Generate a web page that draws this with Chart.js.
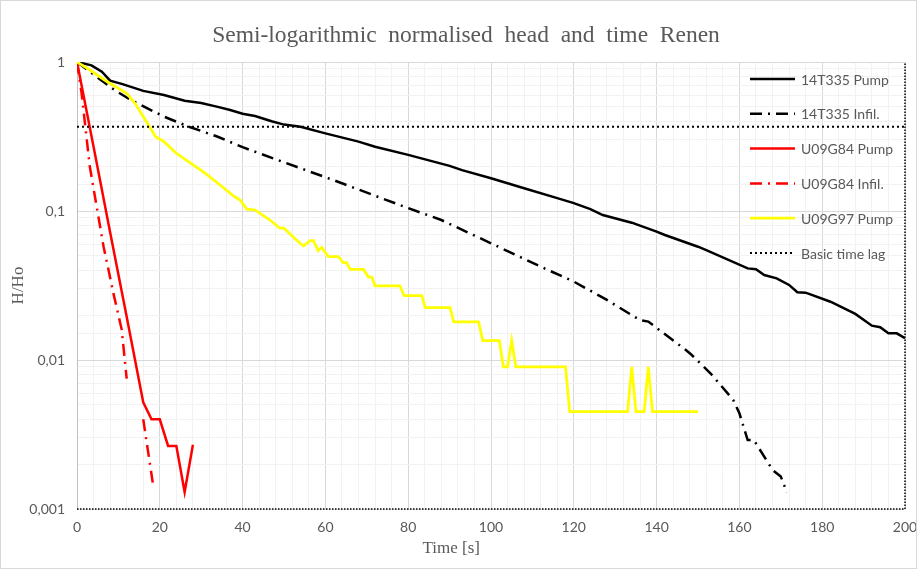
<!DOCTYPE html>
<html>
<head>
<meta charset="utf-8">
<script src="https://cdn.jsdelivr.net/npm/chart.js@4.4.1/dist/chart.umd.min.js"></script>
<style>
  html, body { margin: 0; padding: 0; background: #fff; }
</style>
</head>
<body>
<canvas id="myChart" width="917" height="569"></canvas>
<script>
// values: time [s] and normalised head H/Ho

const pumpT335Time = [0, 3.5, 6, 8, 11, 16, 21, 26, 30, 34, 37, 40, 43, 47, 50, 54, 60, 68, 72, 80, 90, 93, 100, 108, 116, 120, 124, 127, 134, 140, 142, 150, 152, 162, 164, 166, 169, 172, 174, 176, 182, 188, 192, 194, 196, 198, 200];
const pumpT335Head = [1, 0.95, 0.86, 0.75, 0.71, 0.64, 0.60, 0.55, 0.53, 0.50, 0.476, 0.45, 0.434, 0.40, 0.38, 0.368, 0.332, 0.292, 0.27, 0.238, 0.201, 0.188, 0.166, 0.142, 0.122, 0.113, 0.103, 0.094, 0.0835, 0.0727, 0.069, 0.0576, 0.0547, 0.0412, 0.0406, 0.0372, 0.0353, 0.0319, 0.0285, 0.0283, 0.0246, 0.0204, 0.017, 0.0166, 0.0151, 0.0151, 0.014];

const infilT335Time = [0, 3.6, 9, 13, 21, 27, 34, 40, 53, 62, 79, 88, 100, 112, 120, 128, 136, 138, 147, 148.5, 153, 158.5, 160, 162, 163.5, 168, 170, 171.5];
const infilT335Head = [1, 0.84, 0.65, 0.556, 0.43, 0.368, 0.315, 0.268, 0.198, 0.161, 0.107, 0.087, 0.0607, 0.0423, 0.0336, 0.0253, 0.0185, 0.0181, 0.0117, 0.0108, 0.00815, 0.0054, 0.00439, 0.0029, 0.0029, 0.00183, 0.00165, 0.00129];

const pumpG84Time = [0, 4, 8, 12, 16, 18, 20, 22, 24, 26, 28];
const pumpG84Head = [1, 0.27, 0.072, 0.0195, 0.0052, 0.004, 0.004, 0.00265, 0.00265, 0.0013, 0.0027];

// null = no value (gap in the line)
const infilG84Time = [0, 1.1, 3.1, 6.4, 8.8, 10.8, 12, 14, 16, 18.3];
const infilG84Head = [1, 0.62, 0.198, 0.058, 0.028, 0.016, 0.0075, null, 0.004, 0.0015];

const pumpG97Time = [0, 3.2, 7.2, 12, 14, 17, 19, 21, 24, 27, 31, 35, 38, 39.4, 41, 43, 46.6, 49, 50, 53, 54.7, 56.3, 57.1, 58.3, 59.1, 60.7, 63.1, 64.3, 65.1, 66, 69.2, 70.4, 71.2, 72, 78, 79, 83.3, 84.1, 90.1, 91, 97, 98, 102, 103, 104, 105, 106, 118, 119, 133, 134, 135, 137, 138, 139, 150];
const pumpG97Head = [1, 0.88, 0.74, 0.616, 0.528, 0.388, 0.315, 0.292, 0.244, 0.214, 0.179, 0.146, 0.125, 0.1186, 0.103, 0.1016, 0.087, 0.0766, 0.0766, 0.0638, 0.0582, 0.0632, 0.0632, 0.0542, 0.057, 0.0495, 0.0495, 0.045, 0.045, 0.0405, 0.0405, 0.036, 0.036, 0.0315, 0.0315, 0.027, 0.027, 0.0225, 0.0225, 0.018, 0.018, 0.0135, 0.0135, 0.009, 0.009, 0.0135, 0.009, 0.009, 0.0045, 0.0045, 0.009, 0.0045, 0.0045, 0.009, 0.0045, 0.0045];

const timeLagTime = [0, 200];
const timeLagHead = [0.368, 0.368];

const seriesNames = ['14T335 Pump', '14T335 Infil.', 'U09G84 Pump', 'U09G84 Infil.', 'U09G97 Pump', 'Basic time lag'];
const xTicks = [0, 20, 40, 60, 80, 100, 120, 140, 160, 180, 200];
const yTicks = [1, 0.1, 0.01, 0.001];

function pts(t, h) {
    return t.map((x, i) => ({ x: x, y: h[i] }));
}

const dashDot = [12, 6, 2, 6];
const grey = '#595959';
const sans = "Lato, 'Open Sans', sans-serif";
const serif = "'Liberation Serif', 'Times New Roman', serif";

function line(i, t, h, color, dash, width) {
    return {
        label: seriesNames[i],
        data: pts(t, h),
        borderColor: color,
        backgroundColor: color,
        borderWidth: width,
        borderDash: dash,
        pointRadius: 0,
        tension: 0,
        fill: false,
        spanGaps: false,
        order: 10 - i  // excel draws the last series on top
    };
}

// legend drawn inside the plot area, top right
const legendBox = {
    id: 'legendBox',
    afterDatasetsDraw(chart) {
        const ctx = chart.ctx;
        const area = chart.chartArea;
        const x0 = area.right - 155;
        chart.data.datasets.forEach((ds, i) => {
            const y = area.top + 17 + i * 34.8;
            ctx.save();
            ctx.strokeStyle = ds.borderColor;
            ctx.lineWidth = ds.borderWidth;
            ctx.setLineDash(ds.borderDash || []);
            ctx.beginPath();
            ctx.moveTo(x0, y);
            ctx.lineTo(x0 + 45, y);
            ctx.stroke();
            ctx.setLineDash([]);
            ctx.fillStyle = grey;
            ctx.font = '14px ' + sans;
            ctx.textBaseline = 'middle';
            ctx.textAlign = 'left';
            ctx.fillText(ds.label, x0 + 51, y + 1);
            ctx.restore();
        });
    }
};

// title, dotted plot-area edge on the right and bottom, outer frame, x axis title
const frame = {
    id: 'frame',
    afterDraw(chart) {
        const ctx = chart.ctx;
        const a = chart.chartArea;
        ctx.save();
        ctx.strokeStyle = '#000';
        ctx.lineWidth = 1.5;
        ctx.setLineDash([1.5, 1.5]);
        ctx.beginPath();
        ctx.moveTo(a.left, a.bottom);
        ctx.lineTo(a.right, a.bottom);
        ctx.lineTo(a.right, a.top);
        ctx.stroke();
        ctx.setLineDash([]);
        ctx.strokeStyle = '#d9d9d9';
        ctx.lineWidth = 1;
        ctx.strokeRect(0.5, 0.5, chart.width - 1, chart.height - 1);
        ctx.fillStyle = grey;
        ctx.textAlign = 'center';
        ctx.textBaseline = 'middle';
        ctx.font = '23.5px ' + serif;
        ctx.fillText('Semi-logarithmic  normalised  head  and  time  Renen', 466, 36);
        ctx.font = '17px ' + serif;
        ctx.fillText('Time [s]', a.left + a.width * 0.452, 549);
        ctx.restore();
    }
};

const ctx = document.getElementById('myChart').getContext('2d');

let chart = new Chart(ctx, {
    type: 'line',
    data: {
        datasets: [
            line(0, pumpT335Time, pumpT335Head, '#000000', [], 2.5),
            line(1, infilT335Time, infilT335Head, '#000000', dashDot, 2.5),
            line(2, pumpG84Time, pumpG84Head, '#ff0000', [], 2.5),
            line(3, infilG84Time, infilG84Head, '#ff0000', dashDot, 2.5),
            line(4, pumpG97Time, pumpG97Head, '#ffff00', [], 2.75),
            line(5, timeLagTime, timeLagHead, '#000000', [2, 3], 2)
        ]
    },
    options: {
        responsive: false,
        animation: false,
        devicePixelRatio: 1,
        layout: { padding: { left: 0, right: 12, top: 62, bottom: 0 } },
        plugins: {
            legend: { display: false },
            tooltip: { enabled: false },
            title: { display: false }
        },
        scales: {
            x: {
                type: 'linear',
                min: 0,
                max: 200,
                afterFit(scale) {
                    scale.height = 60;
                    scale.paddingLeft = 0;
                    scale.paddingRight = 0;
                },
                afterBuildTicks(scale) {
                    const t = [];
                    for (let v = 0; v <= 200; v += 4) t.push({ value: v });
                    scale.ticks = t;
                },
                ticks: {
                    autoSkip: false,
                    maxRotation: 0,
                    padding: 10,
                    color: grey,
                    font: { family: sans, size: 14 },
                    callback: v => xTicks.includes(v) ? String(v) : ''
                },
                grid: {
                    drawTicks: false,
                    tickLength: 0,
                    color: c => (c.tick && c.tick.value % 20 === 0) ? '#d9d9d9' : '#f2f2f2'
                },
                border: { display: false }
            },
            y: {
                type: 'logarithmic',
                min: 0.001,
                max: 1,
                afterFit(scale) { scale.width = 77; },
                ticks: {
                    autoSkip: false,
                    padding: 12,
                    color: grey,
                    font: { family: sans, size: 14 },
                    callback: v => {
                        const hit = yTicks.find(t => Math.abs(t - v) < t * 1e-6);
                        return hit !== undefined ? String(hit).replace('.', ',') : '';
                    }
                },
                grid: {
                    drawTicks: false,
                    tickLength: 0,
                    color: c => {
                        const v = c.tick ? c.tick.value : 0;
                        return yTicks.some(t => Math.abs(t - v) < t * 1e-6) ? '#d9d9d9' : '#f2f2f2';
                    }
                },
                border: { display: true, color: '#bfbfbf', width: 1 },
                title: {
                    display: true,
                    text: 'H/Ho',
                    color: grey,
                    font: { family: serif, size: 17 },
                    padding: { top: 8, bottom: 0 }
                }
            }
        }
    },
    plugins: [legendBox, frame]
});
</script>
</body>
</html>
